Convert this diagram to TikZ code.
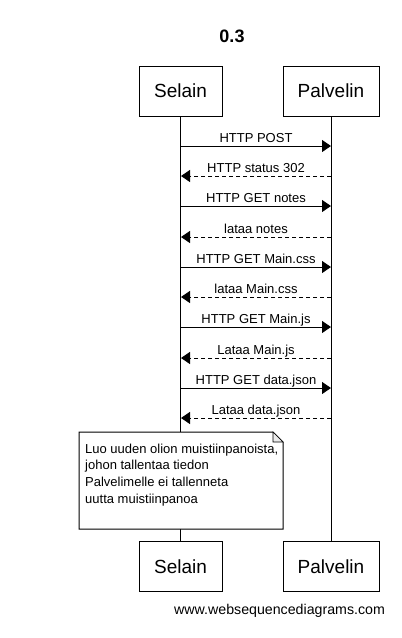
\documentclass[tikz,border=0pt]{standalone}
\usepackage{fontspec}
\setmainfont{Liberation Sans}
\usetikzlibrary{arrows.meta}
\tikzset{
  actor/.style={draw, line width=1pt, fill=white, minimum height=50pt, inner sep=0pt, font=\fontsize{19}{22}\selectfont},
  lifeline/.style={line width=1pt},
  msg/.style={line width=1pt, -{Triangle[length=9pt,width=12pt]}},
  reply/.style={msg, dash pattern=on 4pt off 3pt},
  lbl/.style={anchor=base, inner sep=0pt, font=\fontsize{13}{15}\selectfont},
}
\begin{document}
\begin{tikzpicture}[x=1pt,y=-1pt]
\useasboundingbox (0,0) rectangle (402,638);
\node[anchor=base, font=\fontsize{18}{21}\selectfont\bfseries] (title) at (232,42) {0.3};
\node[actor, minimum width=83pt] (s) at (180.5,91) {Selain};
\node[actor, minimum width=96pt] (p) at (331,91) {Palvelin};
\node[actor, minimum width=83pt] (sb) at (180.5,566.5) {Selain};
\node[actor, minimum width=96pt] (pb) at (331,566.5) {Palvelin};
\draw[lifeline] (s.south) -- (sb.north);
\draw[lifeline] (p.south) -- (pb.north);
\foreach \i/\y in {1/146,2/176,3/206,4/237,5/267,6/297,7/327,8/358,9/388,10/418}{
  \coordinate (s\i) at (181,\y);
  \coordinate (p\i) at (331,\y);
}
\draw[msg] (s1) -- (p1);
\node[lbl] (l1) at (256,142) {HTTP POST};
\draw[reply] (p2) -- (s2);
\node[lbl] (l2) at (256,172) {HTTP status 302};
\draw[msg] (s3) -- (p3);
\node[lbl] (l3) at (256,202) {HTTP GET notes};
\draw[reply] (p4) -- (s4);
\node[lbl] (l4) at (256,233) {lataa notes};
\draw[msg] (s5) -- (p5);
\node[lbl] (l5) at (256,263) {HTTP GET Main.css};
\draw[reply] (p6) -- (s6);
\node[lbl] (l6) at (256,293) {lataa Main.css};
\draw[msg] (s7) -- (p7);
\node[lbl] (l7) at (256,323) {HTTP GET Main.js};
\draw[reply] (p8) -- (s8);
\node[lbl] (l8) at (256,354) {Lataa Main.js};
\draw[msg] (s9) -- (p9);
\node[lbl] (l9) at (256,384) {HTTP GET data.json};
\draw[reply] (p10) -- (s10);
\node[lbl] (l10) at (256,414) {Lataa data.json};
% note
\draw[line width=1pt, fill=white] (79,432) -- (273,432) -- (283,442) -- (283,529) -- (79,529) -- cycle;
\draw[line width=0.6pt, fill=black!8] (273,432) -- (273,442) -- (283,442) -- cycle;
\node[anchor=north west, inner sep=0pt, align=left, font=\fontsize{13}{16.7}\selectfont] (note) at (85,443.5)
  {Luo uuden olion muistiinpanoista,\\johon tallentaa tiedon\\Palvelimelle ei tallenneta\\uutta muistiinpanoa};
\node[anchor=base west, inner sep=0pt, font=\fontsize{14.2}{16}\selectfont] (footer) at (174,614) {www.websequencediagrams.com};
\end{tikzpicture}
\end{document}
